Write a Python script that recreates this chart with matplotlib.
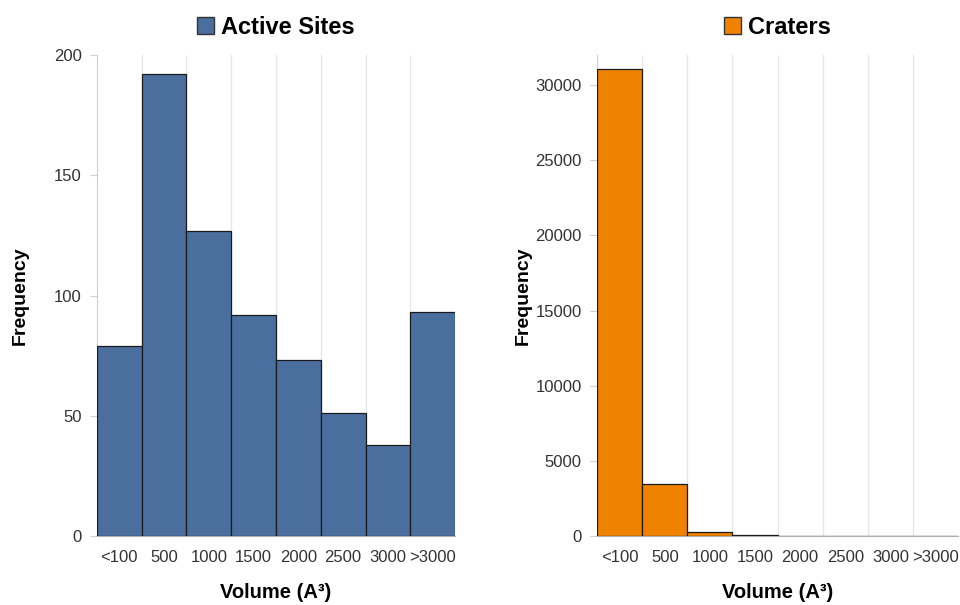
import matplotlib.pyplot as plt
from matplotlib.patches import Patch
import numpy as np

plt.rcParams['font.family'] = ['Liberation Sans', 'DejaVu Sans']

categories = ['<100', '500', '1000', '1500', '2000', '2500', '3000', '>3000']
active_sites = [79, 192, 127, 92, 73, 51, 38, 93]
craters = [31100, 3450, 280, 70, 25, 15, 10, 8]

panels = [
    ('Active Sites', active_sites, '#4a6f9f', [0, 50, 100, 150, 200], 200,
     [0.101, 0.114, 0.373, 0.795], -0.19),
    ('Craters', craters, '#ef8300', [0, 5000, 10000, 15000, 20000, 25000, 30000], 32000,
     [0.622, 0.114, 0.376, 0.795], -0.18),
]

fig = plt.figure(figsize=(9.6, 6.05), dpi=100)
x = np.arange(len(categories))
for title, vals, color, yticks, ymax, rect, ylab_x in panels:
    ax = fig.add_axes(rect)
    ax.bar(x, vals, width=1.0, color=color, edgecolor='#1a1a1a', linewidth=0.9, zorder=3)
    ax.set_xlim(-0.5, len(categories) - 0.5)
    ax.set_ylim(0, ymax)
    ax.set_yticks(yticks)
    ax.set_xticks(x)
    ax.set_xticklabels(categories)
    # light vertical grid at bin boundaries
    for b in np.arange(0.5, len(categories) - 0.5, 1):
        ax.axvline(b, color='#e6e6e6', linewidth=0.9, zorder=1)
    for s in ['top', 'right']:
        ax.spines[s].set_visible(False)
    ax.spines['left'].set_color('#cfcfcf')
    ax.spines['bottom'].set_color('#b0b0b0')
    ax.tick_params(axis='y', colors='#cfcfcf', labelcolor='#333333', labelsize=12, length=5, pad=6)
    ax.tick_params(axis='x', length=0, labelcolor='#333333', labelsize=12, pad=10)
    ax.set_ylabel('Frequency', fontsize=14, fontweight='bold')
    ax.yaxis.set_label_coords(ylab_x, 0.5)
    ax.set_xlabel('Volume (A³)', fontsize=14.5, fontweight='bold', labelpad=13)
    ax.legend(handles=[Patch(facecolor=color, edgecolor='#333333')], labels=[title],
              loc='lower center', bbox_to_anchor=(0.5, 1.0), frameon=False,
              prop={'size': 17, 'weight': 'bold'}, handlelength=0.7, handleheight=0.7,
              handletextpad=0.3, borderaxespad=0.3)

plt.savefig('out.png', dpi=100)
